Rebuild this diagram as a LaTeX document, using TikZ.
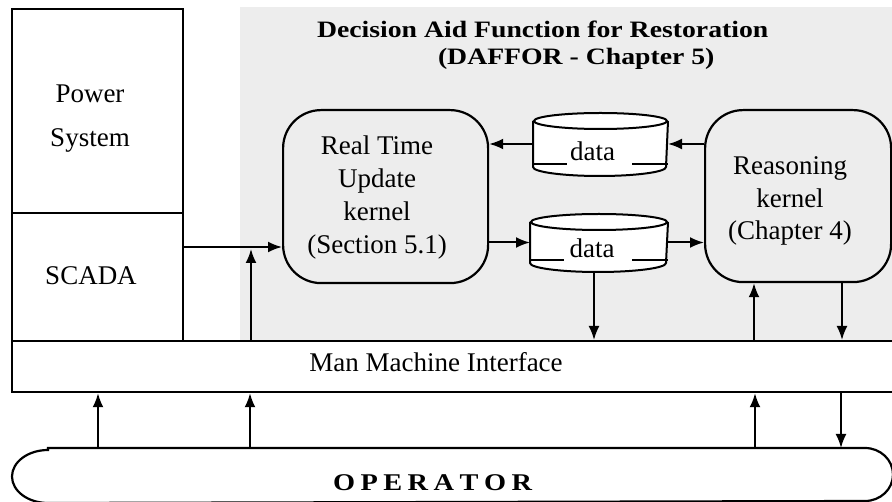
\documentclass[tikz,border=0pt]{standalone}
\usepackage{fontspec}
\setmainfont{Liberation Serif}
\newfontfamily\titlefont[FakeStretch=1.18]{Liberation Serif}
\usetikzlibrary{arrows.meta}
\definecolor{bggray}{HTML}{EDEDED}
\newcommand\drawcyl[2]{%
  \fill[white] ([yshift=-9pt]#1.north west) -- ([yshift=9pt]#1.south west)
     arc[start angle=180,end angle=360,x radius=#2,y radius=9pt]
     -- ([yshift=-9pt]#1.north east) -- cycle;
  \draw ([yshift=-9pt]#1.north west) -- ([yshift=9pt]#1.south west)
     arc[start angle=180,end angle=360,x radius=#2,y radius=9pt]
     -- ([yshift=-9pt]#1.north east);
  \draw[fill=white] ([yshift=-9pt]#1.north) ellipse[x radius=#2,y radius=8pt];
  \draw ([yshift=12pt]#1.south west) -- ++(34pt,0pt);
  \draw ([yshift=12pt]#1.south east) -- ++(-36pt,0pt);
}
\begin{document}
\begin{tikzpicture}[x=1pt,y=-1pt,line width=2pt,
  arr/.style={-{Latex[length=14pt,width=11pt]},line width=2pt},
  box/.style={draw,line width=2.2pt,inner sep=0pt,anchor=north west},
  hold/.style={inner sep=0pt,anchor=north west},
  lbl/.style={font=\fontsize{27}{32.7}\selectfont,anchor=base,inner sep=0pt,align=center},
  ttl/.style={font=\titlefont\bfseries\fontsize{23.5}{28}\selectfont,inner sep=0pt}
]
\useasboundingbox (0,0) rectangle (892,502);
\fill[bggray] (240,7) rectangle (892,340);

% left column
\node[box,minimum width=171pt,minimum height=204pt] (psys) at (11,8) {};
\node[box,minimum width=171pt,minimum height=128pt] (scada) at (11,212) {};
\node[lbl] (pw) at (90,103) {Power};
\node[lbl] (sy) at (90,147) {System};
\node[lbl] (sc) at (91,285) {SCADA};

% title
\node[ttl,anchor=base west] (t1) at (316,38) {Decision Aid Function for Restoration};
\node[ttl,anchor=base west] (t2) at (437,65) {(DAFFOR - Chapter 5)};

% kernels
\node[box,rounded corners=38pt,minimum width=205pt,minimum height=173pt] (rtu) at (282,109) {};
\node[lbl,anchor=center] (rtut) at (377,197.5) {Real Time\\Update\\kernel\\(Section 5.1)};
\node[box,rounded corners=38pt,minimum width=186pt,minimum height=172pt] (rk) at (704,109) {};
\node[lbl,anchor=center] (rkt) at (790,201) {Reasoning\\kernel\\(Chapter 4)};

% data stores
\node[hold,minimum width=133pt,minimum height=62pt] (d1) at (533,112) {};
\node[hold,minimum width=136pt,minimum height=57pt] (d2) at (530,213) {};
\drawcyl{d1}{66.5pt}
\drawcyl{d2}{68pt}
\node[lbl] (d1t) at ([xshift=-8pt,yshift=-17pt]d1.center) {data};
\node[lbl] (d2t) at ([xshift=-7pt,yshift=-15.5pt]d2.center) {data};

% man machine interface
\node[box,minimum width=884pt,minimum height=51pt] (mmi) at (11,340) {};
\node[lbl] (mmit) at (436,372) {Man Machine Interface};

% operator
\node[hold,minimum width=879pt,minimum height=53pt] (op) at (12,448) {};
\draw[line width=2.2pt] ([xshift=36pt]op.north west) -- ([xshift=-28pt]op.north east)
   arc[start angle=90,end angle=-90,x radius=28pt,y radius=26.5pt]
   -- ([xshift=36pt]op.south west)
   arc[start angle=270,end angle=90,x radius=36pt,y radius=26.5pt] -- cycle;
\node[ttl,anchor=base,font=\titlefont\bfseries\fontsize{24}{28}\selectfont] (opt) at (432.5,490)
  {O\kern5.5pt P\kern5.5pt E\kern5.5pt R\kern5.5pt A\kern5.5pt T\kern5.5pt O\kern5.5pt R};

% helper coordinates
\coordinate (j1) at (251,249);
\coordinate (a3) at (754,0);
\coordinate (a4) at (842,0);
\coordinate (o1) at (98,0);
\coordinate (o2) at (250,0);
\coordinate (o3) at (755,0);
\coordinate (o4) at (841,0);

% connectors
\draw[arr] (scada.east |- 0,247) -- (rtu.west |- 0,247);
\draw[arr] (mmi.north -| j1) -- (j1);
\draw[arr] (rk.west |- d1.east) -- (d1.east);
\draw[arr] (d1.west) -- (rtu.east |- d1.west);
\draw[arr] (rtu.east |- d2.west) -- (d2.west);
\draw[arr] (d2.east) -- (rk.west |- d2.east);
\draw[arr] ([xshift=-5pt]d2.south) -- ([xshift=-5pt]d2.south |- mmi.north);
\draw[arr] (mmi.north -| a3) -- (rk.south -| a3);
\draw[arr] (rk.south -| a4) -- (mmi.north -| a4);
\draw[arr] (op.north -| o1) -- (mmi.south -| o1);
\draw[arr] (op.north -| o2) -- (mmi.south -| o2);
\draw[arr] (op.north -| o3) -- (mmi.south -| o3);
\draw[arr] (mmi.south -| o4) -- (op.north -| o4);
\end{tikzpicture}
\end{document}
